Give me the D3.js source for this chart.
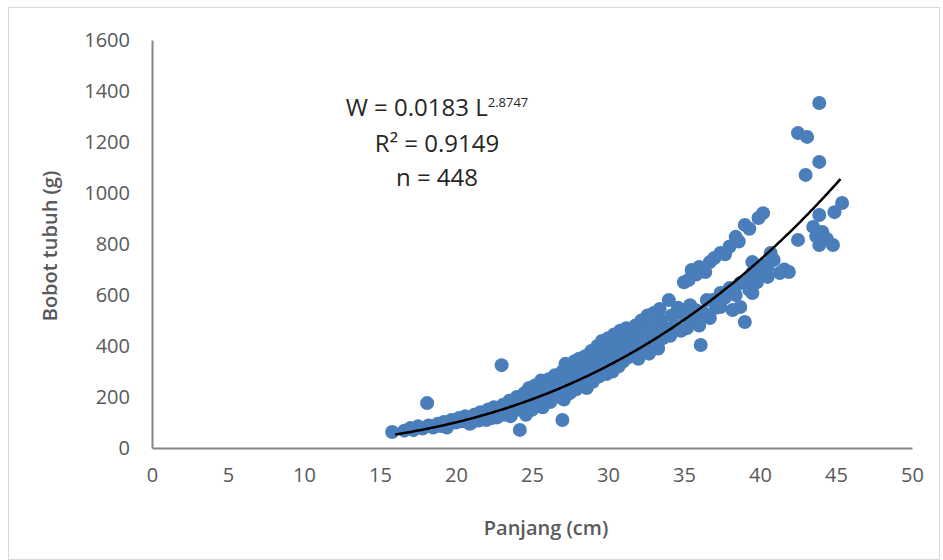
<!DOCTYPE html>
<html>
<head>
<meta charset="utf-8">
<script src="https://cdn.jsdelivr.net/npm/d3@7"></script>
<style>
	body { margin: 0; background: #ffffff; }
	svg { display: block; font-family: "Open Sans", "Liberation Sans", sans-serif; }
</style>
</head>
<body>
<div id="chart"></div>
<script>
// Panjang (cm) de cada ikan
const panjang = [
	15.8, 16.6, 17.0, 17.2, 17.5, 17.8, 18.1, 18.2, 18.5, 18.8, 19.0, 19.2, 19.5, 19.7, 20.0,
	20.2, 20.4, 20.6, 20.8, 21.0, 21.2, 21.4, 21.6, 21.8, 22.0, 22.1, 22.3, 22.5, 22.7, 22.9,
	19.4, 20.9, 21.5, 22.4, 23.6,
	23.0, 23.1, 23.2, 23.4, 23.5, 23.7, 23.8, 24.0, 24.2, 24.2, 24.3, 24.5, 24.6, 24.7, 24.8,
	24.9, 25.0, 25.1, 25.2, 25.3, 25.4, 25.5, 25.6, 25.7, 25.8,
	26.0, 26.1, 26.2, 26.3, 26.5, 26.6, 26.7, 26.8, 27.0, 27.0, 27.1, 27.2, 27.3, 27.4, 27.5,
	27.6, 27.7, 27.8, 27.9, 28.0, 28.1, 28.2, 28.3, 28.4, 28.5, 28.6, 28.7, 28.8, 28.9,
	29.0, 29.1, 29.2, 29.3, 29.4, 29.5, 29.6, 29.7, 29.8, 29.9, 30.0, 30.0, 30.2, 30.3, 30.4,
	30.5, 30.6, 30.7, 30.8, 30.9, 31.0, 31.1, 31.2, 31.3, 31.4, 31.5, 31.6, 31.8, 31.9,
	32.0, 32.1, 32.2, 32.3, 32.5, 32.6, 32.7, 32.8, 33.0, 33.0, 33.2, 33.3, 33.4, 33.5, 33.6,
	33.8, 34.0, 34.1, 34.2, 34.4, 34.6, 34.8,
	35.0, 35.3, 35.5, 35.8, 36.0, 36.4, 36.7, 37.0, 37.4, 37.7, 38.0, 38.4, 38.6, 39.0, 39.3,
	39.9, 40.2,
	35.0, 35.2, 35.4, 35.6, 35.8, 36.0, 36.1, 36.3, 36.5, 36.7, 36.9, 37.1, 37.4, 37.4, 37.7,
	38.0, 38.2, 38.4, 38.7, 38.7, 39.0, 39.1, 39.3, 39.5, 39.5, 39.5, 39.8, 40.0, 40.3, 40.5,
	40.5, 40.7, 40.9, 41.3, 41.6, 41.9,
	42.5, 43.1, 43.9, 43.9, 43.0, 45.4, 44.9, 43.9, 43.5, 44.1, 43.9, 44.8, 42.5, 43.7, 44.4
];

// Bobot tubuh (g) en el mismo orden
const bobot = [
	63, 68, 78, 70, 85, 76, 176, 88, 80, 95, 86, 102, 92, 110, 100,
	118, 105, 125, 112, 98, 130, 118, 140, 125, 110, 150, 135, 160, 120, 145,
	80, 95, 108, 118, 125,
	325, 170, 130, 155, 185, 140, 165, 200, 71, 150, 180, 215, 130, 165, 235,
	190, 150, 210, 245, 175, 225, 195, 265, 160, 235,
	210, 270, 180, 240, 285, 200, 255, 225, 110, 300, 190, 330, 240, 270, 215,
	310, 255, 340, 230, 290, 350, 250, 310, 270, 360, 235, 325, 285, 380,
	260, 340, 300, 400, 280, 360, 420, 310, 380, 290, 430, 340, 395, 300, 445,
	360, 410, 320, 460, 380, 340, 430, 470, 355, 400, 450, 375, 480, 420,
	350, 455, 500, 390, 430, 520, 370, 480, 410, 529, 455, 390, 545, 500, 430,
	470, 580, 440, 520, 480, 550, 460,
	650, 659, 698, 680, 710, 690, 729, 745, 765, 760, 790, 828, 810, 875, 860,
	902, 921,
	520, 470, 560, 500, 540, 480, 404, 529, 580, 510, 580, 550, 608, 553, 590,
	627, 541, 600, 647, 553, 494, 659, 620, 686, 608, 729, 650, 690, 720, 710,
	671, 765, 737, 686, 700, 690,
	1235, 1220, 1353, 1122, 1071, 961, 925, 914, 867, 847, 796, 796, 816, 830, 820
];

// Etiquetas de los ejes
const xTicks = [0, 5, 10, 15, 20, 25, 30, 35, 40, 45, 50];
const yTicks = [0, 200, 400, 600, 800, 1000, 1200, 1400, 1600];

// Parámetros de la regresión W = a L^b
const coefA = 0.0183;
const coefB = 2.8747;
const trendRange = [16, 45.3];

const width = 943;
const height = 560;
const margin = { left: 152, right: 31, top: 40, bottom: 112 };

const svg = d3.select("#chart")
	.append("svg")
	.attr("width", width)
	.attr("height", height);

// Marco del gráfico
svg.append("rect")
	.attr("x", 8.5)
	.attr("y", 7.5)
	.attr("width", 931)
	.attr("height", 552)
	.attr("fill", "#ffffff")
	.attr("stroke", "#d9d9d9")
	.attr("stroke-width", 1);

const x = d3.scaleLinear()
	.domain([0, 50])
	.range([margin.left, width - margin.right]);

const y = d3.scaleLinear()
	.domain([0, 1600])
	.range([height - margin.bottom, margin.top]);

// Eje Y
const yAxis = svg.append("g")
	.attr("transform", `translate(${margin.left},0)`)
	.call(d3.axisLeft(y).tickValues(yTicks).tickFormat(d3.format("d")).tickSize(0).tickPadding(22));
yAxis.select(".domain").attr("stroke", "#868686").attr("stroke-width", 2);
yAxis.selectAll("text")
	.attr("font-size", "20px")
	.attr("fill", "#595959")
	.attr("font-family", "'Open Sans', sans-serif");

// Eje X
const xAxis = svg.append("g")
	.attr("transform", `translate(0,${height - margin.bottom})`)
	.call(d3.axisBottom(x).tickValues(xTicks).tickFormat(d3.format("d")).tickSize(0).tickPadding(20));
xAxis.select(".domain").attr("stroke", "#868686").attr("stroke-width", 2);
xAxis.selectAll("text")
	.attr("font-size", "20px")
	.attr("fill", "#595959")
	.attr("font-family", "'Open Sans', sans-serif");

// Puntos
const puntos = panjang.map((d, i) => ({ l: d, w: bobot[i] }));
svg.append("g")
	.selectAll("circle")
	.data(puntos)
	.enter()
	.append("circle")
	.attr("cx", d => x(d.l))
	.attr("cy", d => y(d.w))
	.attr("r", 7)
	.attr("fill", "#4a7ebb");

// Línea de tendencia (potencia)
const trend = d3.range(trendRange[0], trendRange[1] + 0.001, 0.1)
	.map(l => ({ l: l, w: coefA * Math.pow(l, coefB) }));
svg.append("path")
	.datum(trend)
	.attr("fill", "none")
	.attr("stroke", "#000000")
	.attr("stroke-width", 2.5)
	.attr("d", d3.line().x(d => x(d.l)).y(d => y(d.w)));

// Títulos de los ejes
svg.append("text")
	.attr("x", 546)
	.attr("y", 535)
	.attr("text-anchor", "middle")
	.attr("font-size", "20px")
	.attr("font-weight", 600)
	.attr("fill", "#595959")
	.text("Panjang (cm)");

svg.append("text")
	.attr("transform", "translate(57,246) rotate(-90)")
	.attr("text-anchor", "middle")
	.attr("font-size", "20px")
	.attr("font-weight", 600)
	.attr("fill", "#595959")
	.text("Bobot tubuh (g)");

// Ecuación de la regresión
const eq = svg.append("text")
	.attr("x", 437)
	.attr("y", 116)
	.attr("text-anchor", "middle")
	.attr("font-size", "24px")
	.attr("fill", "#262626");
eq.append("tspan").text("W = " + coefA + " L");
eq.append("tspan").attr("font-size", "13px").attr("dy", -9).text(coefB);

svg.append("text")
	.attr("x", 437)
	.attr("y", 152)
	.attr("text-anchor", "middle")
	.attr("font-size", "24px")
	.attr("fill", "#262626")
	.text("R² = 0.9149");

svg.append("text")
	.attr("x", 437)
	.attr("y", 186)
	.attr("text-anchor", "middle")
	.attr("font-size", "24px")
	.attr("fill", "#262626")
	.text("n = 448");
</script>
</body>
</html>
